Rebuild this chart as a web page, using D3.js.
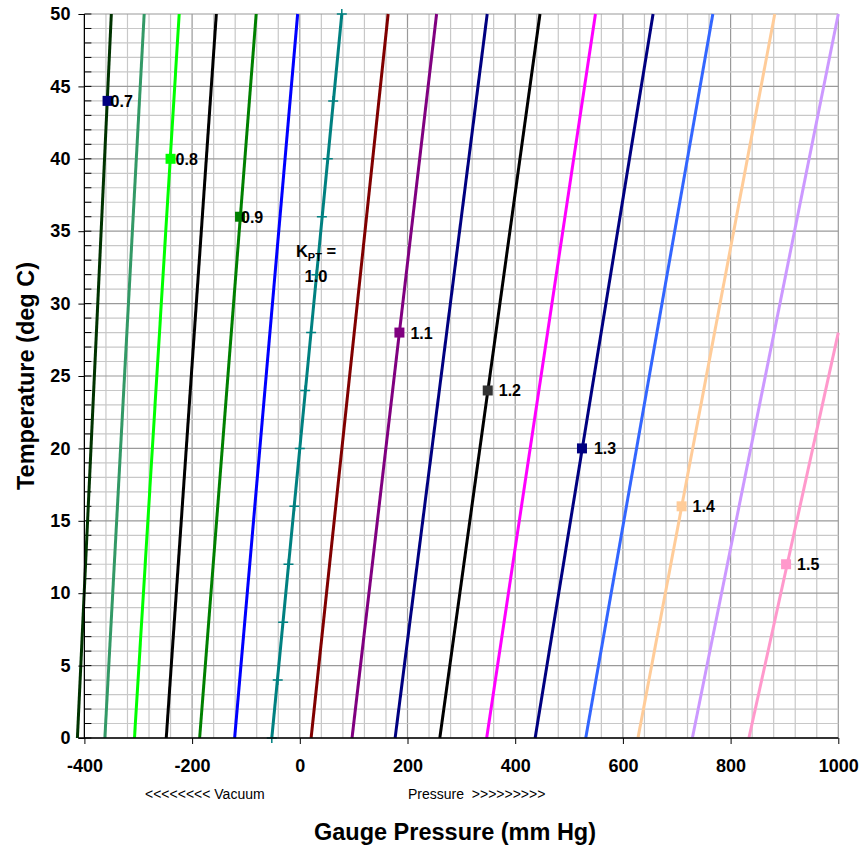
<!DOCTYPE html>
<html lang="en">
<head>
<meta charset="utf-8">
<title>KPT chart</title>
<script src="https://d3js.org/d3.v7.min.js"></script>
<style>
body { margin: 0; background: #fff; }
text { font-family: "Liberation Sans", Arial, sans-serif; }
.tick text { font-weight: bold; }
</style>
</head>
<body>
<div id="main"></div>
<script>
    // constant-K lines, pressure read at T = 0 and at the top end of each line
    const kValues = ['0.70', '0.75', '0.80', '0.85', '0.90', '0.95', '1.00', '1.05', '1.10',
                     '1.15', '1.20', '1.25', '1.30', '1.35', '1.40', '1.45', '1.50'];
    const pressureAtBottom = [-413, -362, -307, -248, -186, -121, -52, 21, 97,
                              177, 260, 347, 437, 531, 628, 729, 834];
    const tempAtTop = [50, 50, 50, 50, 50, 50, 50, 50, 50,
                       50, 50, 50, 50, 50, 50, 50, 28];
    const pressureAtTop = [-350, -289, -224, -155, -81, -4, 78, 164, 254,
                           348, 446, 549, 656, 767, 882, 1000, 1000];

    // points on the K = 1.0 line (plus markers)
    const unityTemps = [0, 4, 8, 12, 16, 20, 24, 28, 32, 36, 40, 44, 50];
    const unityPressures = [-52, -41, -31, -21, -10, 0, 10, 21, 31, 41, 52, 62, 78];

    // labelled square markers
    const markerLabels = ['0.7', '0.8', '0.9', '1.1', '1.2', '1.3', '1.4', '1.5'];
    const markerTemps = [44, 40, 36, 28, 24, 20, 16, 12];
    const markerPressures = [-357, -240, -111, 185, 349, 524, 709, 903];

    const xTicks = [-400, -200, 0, 200, 400, 600, 800, 1000];
    const yTicks = [0, 5, 10, 15, 20, 25, 30, 35, 40, 45, 50];

    const lineColors = ['#003300', '#339966', '#00ff00', '#000000', '#008000', '#0000ff', '#008080',
                        '#800000', '#800080', '#000080', '#000000', '#ff00ff', '#000080', '#3366ff',
                        '#ffcc99', '#cc99ff', '#ff99cc'];
    const markerColors = ['#000080', '#00ff00', '#008000', '#800080', '#333333', '#000080', '#ffcc99', '#ff99cc'];
    const labelOffsets = [3, 5, 1, 11, 11, 12, 11, 11];

    const width = 863;
    const height = 847;
    const plotLeft = 84.4, plotRight = 838.3, plotTop = 14, plotBottom = 738;

    const svg = d3.select('#main')
        .append('svg')
        .attr('width', width)
        .attr('height', height);

    const xScale = d3.scaleLinear().domain([-400, 1000]).range([plotLeft, plotRight]);
    const yScale = d3.scaleLinear().domain([0, 50]).range([plotBottom, plotTop]);

    // gridlines
    const grid = svg.append('g');
    d3.range(-400, 1001, 40).forEach(v => {
        grid.append('line')
            .attr('x1', xScale(v)).attr('x2', xScale(v))
            .attr('y1', plotTop).attr('y2', plotBottom)
            .attr('stroke', v % 200 === 0 ? '#9a9a9a' : '#c8c8c8')
            .attr('stroke-width', 1.2);
    });
    d3.range(0, 51, 1).forEach(v => {
        grid.append('line')
            .attr('x1', plotLeft).attr('x2', plotRight)
            .attr('y1', yScale(v)).attr('y2', yScale(v))
            .attr('stroke', v % 5 === 0 ? '#9a9a9a' : '#c8c8c8')
            .attr('stroke-width', 1.2);
    });

    // minor ticks on the y axis (inside)
    d3.range(0, 51, 1).forEach(v => {
        svg.append('line')
            .attr('x1', plotLeft).attr('x2', plotLeft + 7)
            .attr('y1', yScale(v)).attr('y2', yScale(v))
            .attr('stroke', '#000').attr('stroke-width', 1);
    });

    // constant K lines
    const line = d3.line().x(d => xScale(d[0])).y(d => yScale(d[1]));
    kValues.forEach((k, i) => {
        const pts = [[pressureAtBottom[i], 0], [pressureAtTop[i], tempAtTop[i]]];
        svg.append('path')
            .datum(pts)
            .attr('d', line)
            .attr('fill', 'none')
            .attr('stroke', lineColors[i])
            .attr('stroke-width', 3);
    });

    // plus markers on K = 1.0
    unityTemps.forEach((t, i) => {
        const cx = xScale(unityPressures[i]), cy = yScale(t);
        svg.append('path')
            .attr('d', `M${cx - 5},${cy}H${cx + 5}M${cx},${cy - 5}V${cy + 5}`)
            .attr('stroke', '#008080')
            .attr('stroke-width', 1.5)
            .attr('fill', 'none');
    });

    // square markers and labels
    markerLabels.forEach((lab, i) => {
        const cx = xScale(markerPressures[i]), cy = yScale(markerTemps[i]);
        svg.append('rect')
            .attr('x', cx - 5).attr('y', cy - 5)
            .attr('width', 10).attr('height', 10)
            .attr('fill', markerColors[i]);
        svg.append('text')
            .attr('x', cx + labelOffsets[i])
            .attr('y', cy + 6)
            .attr('font-size', 16)
            .attr('font-weight', 'bold')
            .text(lab);
    });

    const kpt = svg.append('text')
        .attr('x', 316).attr('y', 257)
        .attr('text-anchor', 'middle')
        .attr('font-size', 16.5)
        .attr('font-weight', 'bold');
    kpt.append('tspan').text('K');
    kpt.append('tspan').attr('font-size', 11).attr('dy', 4).text('PT');
    kpt.append('tspan').attr('dy', -4).text(' =');
    svg.append('text')
        .attr('x', 316).attr('y', 282)
        .attr('text-anchor', 'middle')
        .attr('font-size', 16.5)
        .attr('font-weight', 'bold')
        .text('1.0');

    // axes
    const xAxis = svg.append('g')
        .attr('transform', `translate(0, ${plotBottom})`)
        .call(d3.axisBottom(xScale).tickValues(xTicks).tickSize(6).tickPadding(15).tickFormat(d => d));
    xAxis.select('.domain').remove();
    xAxis.selectAll('text').attr('font-size', 18).attr('font-family', '"Liberation Sans", Arial, sans-serif');

    const yAxis = svg.append('g')
        .attr('transform', `translate(${plotLeft}, 0)`)
        .call(d3.axisLeft(yScale).tickValues(yTicks).tickSize(6).tickPadding(8));
    yAxis.select('.domain').remove();
    yAxis.selectAll('text').attr('font-size', 18).attr('font-family', '"Liberation Sans", Arial, sans-serif');

    svg.append('line')
        .attr('x1', plotLeft).attr('x2', plotLeft).attr('y1', plotTop).attr('y2', plotBottom)
        .attr('stroke', '#000').attr('stroke-width', 1.2);
    svg.append('line')
        .attr('x1', plotLeft - 6).attr('x2', plotRight).attr('y1', plotBottom).attr('y2', plotBottom)
        .attr('stroke', '#000').attr('stroke-width', 1.5);

    // titles
    svg.append('text')
        .attr('transform', `translate(34, 376) rotate(-90)`)
        .attr('text-anchor', 'middle')
        .attr('font-size', 23.5)
        .attr('font-weight', 'bold')
        .text('Temperature (deg C)');

    svg.append('text')
        .attr('x', 455).attr('y', 840)
        .attr('text-anchor', 'middle')
        .attr('font-size', 23.5)
        .attr('font-weight', 'bold')
        .text('Gauge Pressure (mm Hg)');

    svg.append('text')
        .attr('x', 145).attr('y', 799)
        .attr('font-size', 14)
        .text('<<<<<<<< Vacuum');
    svg.append('text')
        .attr('x', 408).attr('y', 799)
        .attr('font-size', 14)
        .style('white-space', 'pre')
        .text('Pressure  >>>>>>>>>');
</script>
</body>
</html>
